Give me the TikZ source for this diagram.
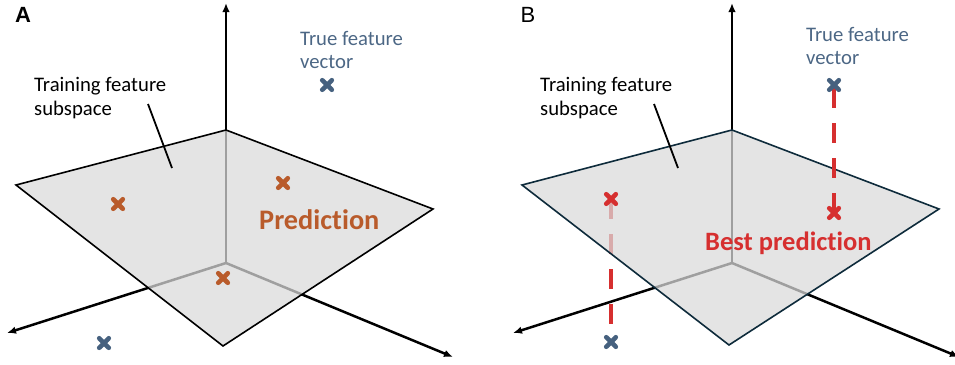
\documentclass[tikz,border=0pt]{standalone}
\usepackage{fontspec}
\setmainfont{Carlito}[Ligatures=NoCommon]
\newfontfamily\panelfont{Liberation Sans}
\usetikzlibrary{arrows.meta}
\definecolor{predorange}{HTML}{B95B2B}
\definecolor{truevec}{HTML}{46617F}
\definecolor{truetxt}{HTML}{4C6785}
\definecolor{bestred}{HTML}{D62F2F}
\definecolor{edgenavy}{HTML}{0E2B3B}
\newcommand\mytwolines[2]{\begin{tabular}[t]{@{}l@{}}#1\\#2\end{tabular}}
\tikzset{
  axisline/.style={line width=2.5pt, -{Latex[length=9pt,width=7.5pt]}},
  plane/.style={fill=black!14.5, fill opacity=0.73, line width=1.6pt, line join=miter},
  leader/.style={line width=1.8pt},
  reddash/.style={bestred, line width=3.2pt, dash pattern=on 20pt off 15pt},
  panellabel/.style={font=\panelfont\fontsize{22}{24}\selectfont, inner sep=0pt},
  subtext/.style={font=\fontsize{20.7}{24}\selectfont, inner sep=0pt, anchor=base west},
  truetext/.style={font=\fontsize{20.7}{24}\selectfont, text=truetxt, inner sep=0pt, anchor=base west},
  predtext/.style={font=\bfseries\fontsize{28.3}{32}\selectfont, text=predorange, inner sep=0pt, anchor=base west},
  besttext/.style={font=\bfseries\fontsize{26.5}{30}\selectfont, text=bestred, inner sep=0pt, anchor=base west},
  xm/.pic={\draw[line width=4.6pt, line cap=round] (-4.8,-4.8) -- (4.8,4.8) (-4.8,4.8) -- (4.8,-4.8);}
}
\begin{document}
\begin{tikzpicture}[x=1pt, y=-1pt]
\useasboundingbox (0,0) rectangle (955,364);
\clip (0,0) rectangle (955,364);

% ---------- Panel A ----------
\coordinate (oA) at (226,263);
\coordinate (topA) at (226,3);
\coordinate (leftA) at (7,333);
\coordinate (rightA) at (453,357);
\coordinate (pA1) at (226,130);
\coordinate (pA2) at (16,185);
\coordinate (pA3) at (223,346);
\coordinate (pA4) at (433,209);
\coordinate (ldA1) at (148,104);
\coordinate (ldA2) at (172,168);
\coordinate (tvA) at (327,85);
\coordinate (tvA2) at (104,343);
\coordinate (prA1) at (118,204);
\coordinate (prA2) at (283,183);
\coordinate (prA3) at (223,278);

\draw[axisline] (oA) -- (topA);
\draw[axisline] (oA) -- (leftA);
\draw[axisline] (oA) -- (rightA);
\draw[plane] (pA1) -- (pA2) -- (pA3) -- (pA4) -- cycle;
\draw[leader] (ldA1) -- (ldA2);
\pic[truevec] at (tvA) {xm};
\pic[truevec] at (tvA2) {xm};
\pic[predorange] at (prA1) {xm};
\pic[predorange] at (prA2) {xm};
\pic[predorange] at (prA3) {xm};

\node[panellabel, font=\panelfont\bfseries\fontsize{22}{24}\selectfont] (labA) at (23,15) {A};
\node[subtext] (subA) at (34,91) {\mytwolines{Training feature}{subspace}};
\node[truetext] (trueA) at (300,45) {\mytwolines{True feature}{vector}};
\node[predtext] (predA) at (259,229) {Prediction};

% ---------- Panel B ----------
\coordinate (oB) at (732,263);
\coordinate (topB) at (732,3);
\coordinate (leftB) at (513,333);
\coordinate (rightB) at (959,357);
\coordinate (pB1) at (732,130);
\coordinate (pB2) at (522,185);
\coordinate (pB3) at (729,345);
\coordinate (pB4) at (939,209);
\coordinate (ldB1) at (654,104);
\coordinate (ldB2) at (678,168);
\coordinate (tvB) at (834,85);
\coordinate (tvBtop) at (834,88);
\coordinate (tvB2) at (611,342);
\coordinate (bpB1) at (834,213);
\coordinate (bpB2) at (611,199);

\draw[axisline] (oB) -- (topB);
\draw[axisline] (oB) -- (leftB);
\draw[axisline] (oB) -- (rightB);
\draw[reddash] (bpB2) -- (tvB2);
\draw[plane, draw=edgenavy] (pB1) -- (pB2) -- (pB3) -- (pB4) -- cycle;
\draw[leader] (ldB1) -- (ldB2);
\draw[reddash] (tvBtop) -- (bpB1);
\pic[truevec] at (tvB) {xm};
\pic[truevec] at (tvB2) {xm};
\pic[bestred] at (bpB1) {xm};
\pic[bestred] at (bpB2) {xm};

\node[panellabel] (labB) at (528,15) {B};
\node[subtext] (subB) at (540,91) {\mytwolines{Training feature}{subspace}};
\node[truetext] (trueB) at (806,41) {\mytwolines{True feature}{vector}};
\node[besttext] (bestB) at (705,250) {Best prediction};
\end{tikzpicture}
\end{document}
